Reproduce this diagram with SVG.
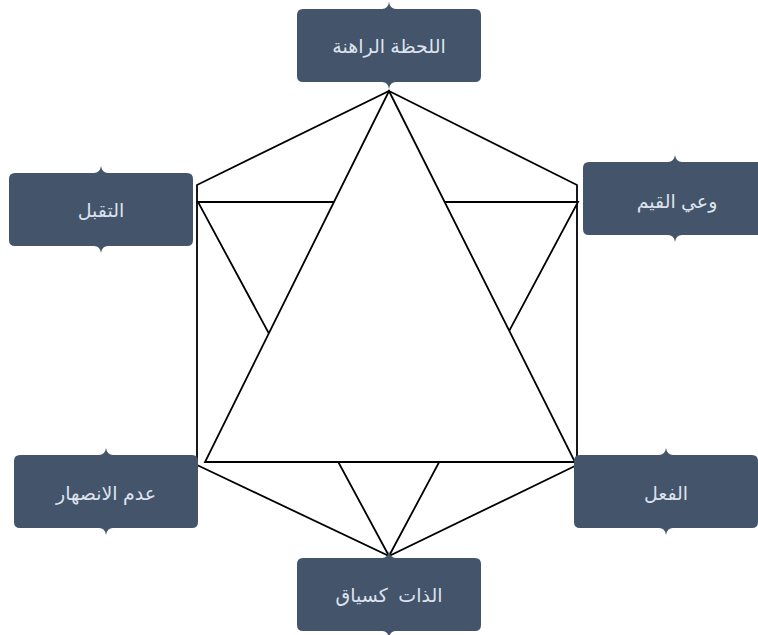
<svg xmlns="http://www.w3.org/2000/svg" xmlns:xlink="http://www.w3.org/1999/xlink" width="758" height="635" viewBox="0 0 758 635">
<style>
.ln{fill:none;stroke:#000;stroke-width:1.8;stroke-linejoin:miter}
.tri{fill:#fff;stroke:#000;stroke-width:1.8}
.box{fill:#44546A}
.lbl{font-family:"Liberation Sans","DejaVu Sans",sans-serif;font-size:19px;fill:#DCE3EE;text-anchor:middle;dominant-baseline:central;white-space:pre}
</style>
<defs>
<path id="callout" d="M6,0 H85 Q91,0 92,-7 Q93,0 99,0 H178 Q184,0 184,6 V67 Q184,73 178,73 H99 Q93,73 92,80 Q91,73 85,73 H6 Q0,73 0,67 V6 Q0,0 6,0 Z"/>
</defs>
<rect width="758" height="635" fill="#fff"/>
<g id="connectors">
<polygon class="ln" points="389,91 577,185 577,465 389,556 197,465 197,185"/>
<polygon class="tri" points="198,202 578,202 389,556"/>
<polygon class="tri" points="389,91 575,462 205,462"/>
</g>
<g id="node-top">
<use href="#callout" class="box" transform="translate(297,9)"/>
<text class="lbl" x="389" y="46">اللحظة الراهنة</text>
</g>
<g id="node-left">
<use href="#callout" class="box" transform="translate(9,173)"/>
<text class="lbl" x="101" y="210">التقبل</text>
</g>
<g id="node-right">
<use href="#callout" class="box" transform="translate(583,162)"/>
<text class="lbl" x="677" y="201">وعي القيم</text>
</g>
<g id="node-bottom-left">
<use href="#callout" class="box" transform="translate(14,455)"/>
<text class="lbl" x="106" y="493">عدم الانصهار</text>
</g>
<g id="node-bottom-right">
<use href="#callout" class="box" transform="translate(574,455)"/>
<text class="lbl" x="666" y="493">الفعل</text>
</g>
<g id="node-bottom">
<use href="#callout" class="box" transform="translate(297,558)"/>
<text class="lbl" x="389" y="595">الذات  كسياق</text>
</g>
</svg>
